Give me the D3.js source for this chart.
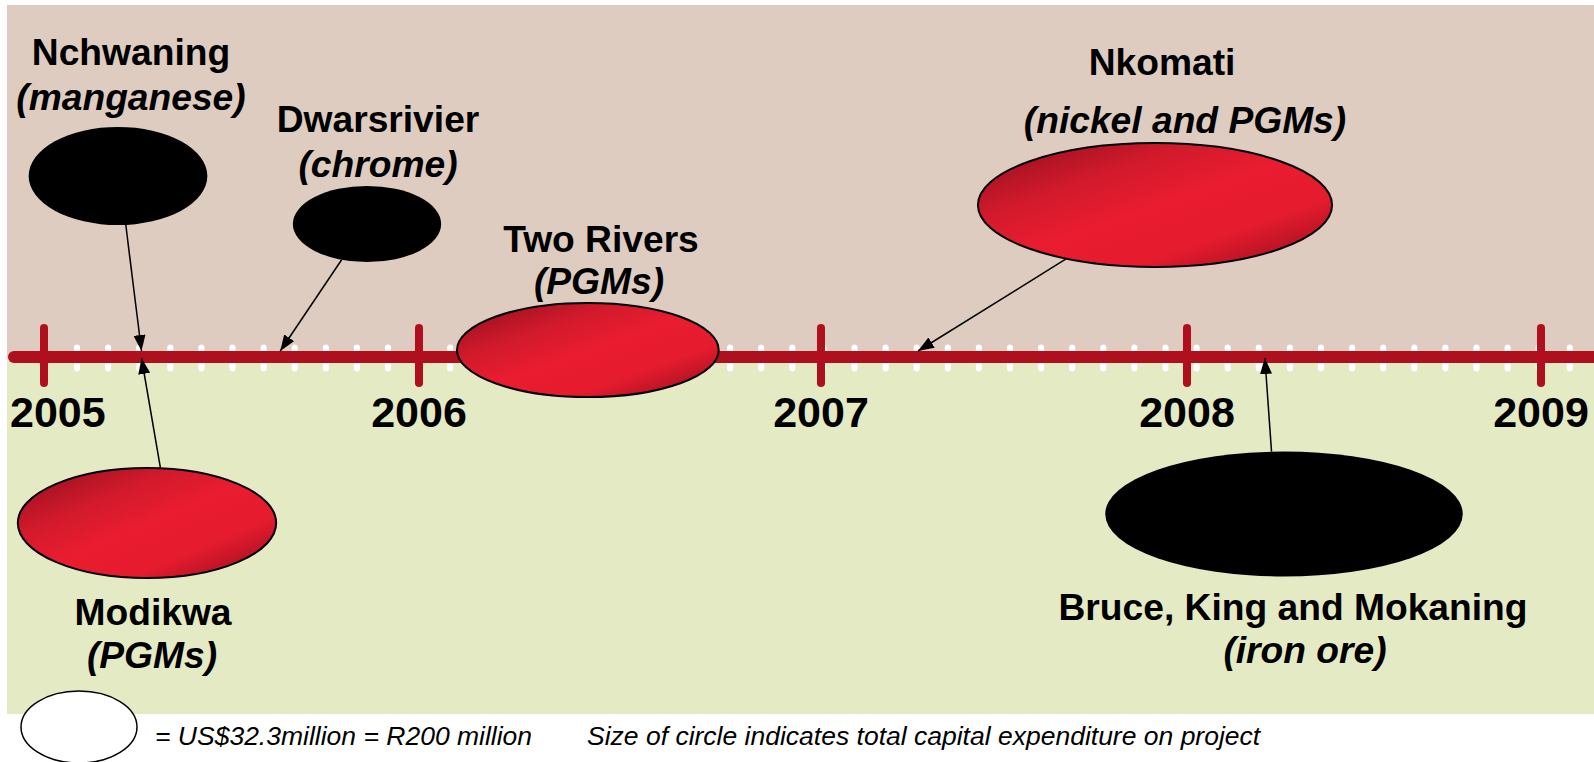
<!DOCTYPE html>
<html>
<head>
<meta charset="utf-8">
<script src="https://cdn.jsdelivr.net/npm/d3@7"></script>
<style>
  body { margin: 0; background: #fff; }
  svg { display: block; font-family: "Liberation Sans", Arial, sans-serif; }
  .name { font-weight: bold; font-size: 37.2px; fill: #000; }
  .mineral { font-weight: bold; font-style: italic; font-size: 37.2px; fill: #000; }
  .year { font-weight: bold; font-size: 43px; fill: #000; }
  .note { font-style: italic; font-size: 26.5px; fill: #000; }
</style>
</head>
<body>
<svg id="chart"></svg>
<script>
// years on the timeline
const years = [2005, 2006, 2007, 2008, 2009];

// projects, commodity, division, completion (fractional year), capex (R million)
const projects = ["Nchwaning", "Dwarsrivier", "Two Rivers", "Nkomati", "Modikwa", "Bruce, King and Mokaning"];
const minerals = ["manganese", "chrome", "PGMs", "nickel and PGMs", "PGMs", "iron ore"];
const divisions = ["Ferrous", "Ferrous", "Platinum", "Platinum", "Platinum", "Ferrous"];
const completion = [2005.26, 2005.63, 2006.42, 2007.265, 2005.26, 2008.22];
const capex = [420, 270, 590, 1050, 680, 1070];

// legend reference bubble
const legendCapex = 200;
const legendText = "= US$32.3million = R200 million";
const noteText = "Size of circle indicates total capital expenditure on project";

// hand placed layout (bubble centre, aspect, arrow anchor angle, label positions)
const layout = [
  { cx: 118, cy: 176, aspect: 1.82, side: -1, angle: 85, nx: 131, ny: 65, mx: 131, my: 110 },
  { cx: 367, cy: 224, aspect: 1.95, side: -1, angle: 110, nx: 378, ny: 132, mx: 378, my: 177 },
  { cx: null, cy: 350, aspect: 2.78, side: 0, angle: null, nx: 601, ny: 252, mx: 599, my: 294 },
  { cx: 1155, cy: 205, aspect: 2.86, side: -1, angle: 120, nx: 1162, ny: 75, mx: 1185, my: 133 },
  { cx: 147, cy: 523, aspect: 2.35, side: 1, angle: -84, nx: 153, ny: 625, mx: 152, my: 668 },
  { cx: 1284, cy: 514, aspect: 2.86, side: 1, angle: -94, nx: 1293, ny: 620, mx: 1305, my: 663 }
];

class Timeline {

  constructor(_config) {
    this.config = {
      parentElement: _config.parentElement,
      containerWidth: _config.containerWidth || 1594,
      containerHeight: _config.containerHeight || 762,
      lineY: 357
    }
    this.initVis();
  }

  initVis() {
    let vis = this;

    vis.svg = d3.select(vis.config.parentElement)
        .attr('width', vis.config.containerWidth)
        .attr('height', vis.config.containerHeight);

    // years were spaced by hand on the slide, so a polylinear scale
    vis.xScale = d3.scaleLinear()
        .domain(years)
        .range([44, 419, 821, 1187, 1541]);

    // bubble area proportional to capex
    vis.rScale = d3.scaleSqrt()
        .domain([0, legendCapex])
        .range([0, 45.7]);

    vis.colour = d3.scaleOrdinal()
        .domain(["Ferrous", "Platinum"])
        .range(["#000", "url(#redGrad)"]);

    const defs = vis.svg.append('defs');
    const grad = defs.append('linearGradient')
        .attr('id', 'redGrad')
        .attr('x1', 0).attr('y1', 0).attr('x2', 1).attr('y2', 1);
    [[0, '#8c0d1b'], [0.3, '#d11a2c'], [0.5, '#ea1c30'], [0.72, '#e51b2e'], [1, '#8c0d1b']]
      .forEach(s => grad.append('stop').attr('offset', s[0]).attr('stop-color', s[1]));

    defs.append('marker')
        .attr('id', 'arrow')
        .attr('viewBox', '0 0 16 12')
        .attr('markerUnits', 'userSpaceOnUse')
        .attr('markerWidth', 16).attr('markerHeight', 12)
        .attr('refX', 16).attr('refY', 6)
        .attr('orient', 'auto')
      .append('path')
        .attr('d', 'M0,0L16,6L0,12Z')
        .attr('fill', '#000');

    // background bands
    vis.svg.append('rect')
        .attr('x', 7).attr('y', 5)
        .attr('width', vis.config.containerWidth - 7)
        .attr('height', vis.config.lineY - 5)
        .attr('fill', '#ddccbf');
    vis.svg.append('rect')
        .attr('x', 7).attr('y', vis.config.lineY)
        .attr('width', vis.config.containerWidth - 7)
        .attr('height', 714 - vis.config.lineY)
        .attr('fill', '#e4eac3');

    vis.axisG = vis.svg.append('g').attr('class', 'axis');
    vis.chart = vis.svg.append('g');

    this.updateVis();
  }

  updateVis() {
    let vis = this;

    vis.data = projects.map((p, i) => {
      const r = vis.rScale(capex[i]);
      const l = layout[i];
      const tx = vis.xScale(completion[i]);
      return {
        name: p,
        mineral: "(" + minerals[i] + ")",
        division: divisions[i],
        tx: tx,
        cx: l.cx === null ? tx : l.cx,
        cy: l.cy,
        rx: r * Math.sqrt(l.aspect),
        ry: r / Math.sqrt(l.aspect),
        layout: l
      };
    });

    this.renderVis();
  }

  renderVis() {
    let vis = this;
    const y0 = vis.config.lineY;

    // monthly white dashes behind the red line
    vis.axisG.selectAll('.dash')
        .data(d3.range(77, vis.config.containerWidth, 31.1))
      .join('rect')
        .attr('class', 'dash')
        .attr('x', d => d - 3)
        .attr('y', y0 - 12.5)
        .attr('width', 6)
        .attr('height', 27)
        .attr('rx', 3)
        .attr('fill', '#fff');

    vis.axisG.append('line')
        .attr('x1', 14).attr('x2', vis.config.containerWidth + 10)
        .attr('y1', y0).attr('y2', y0)
        .attr('stroke', '#b0101e')
        .attr('stroke-width', 12)
        .attr('stroke-linecap', 'round');

    vis.axisG.selectAll('.tick')
        .data(years)
      .join('line')
        .attr('class', 'tick')
        .attr('x1', d => vis.xScale(d)).attr('x2', d => vis.xScale(d))
        .attr('y1', y0 - 29).attr('y2', y0 + 26)
        .attr('stroke', '#b0101e')
        .attr('stroke-width', 8)
        .attr('stroke-linecap', 'round');

    vis.axisG.selectAll('.year')
        .data(years)
      .join('text')
        .attr('class', 'year')
        .attr('text-anchor', 'middle')
        .attr('y', y0 + 70)
        .text(d => d)
        .attr('x', function(d) {
          const w = this.getComputedTextLength();
          return Math.max(vis.xScale(d), 10 + w / 2);
        });

    // arrows from bubble edge to completion date
    const withArrow = vis.data.filter(d => d.layout.side !== 0);
    vis.chart.selectAll('.pointer')
        .data(withArrow)
      .join('line')
        .attr('class', 'pointer')
        .attr('x1', d => d.cx + d.rx * Math.cos(d.layout.angle * Math.PI / 180))
        .attr('y1', d => d.cy + d.ry * Math.sin(d.layout.angle * Math.PI / 180))
        .attr('x2', d => d.tx)
        .attr('y2', d => d.layout.side < 0 ? y0 - 6 : y0 + 1)
        .attr('stroke', '#000')
        .attr('stroke-width', 1.5)
        .attr('marker-end', 'url(#arrow)');

    vis.chart.selectAll('.bubble')
        .data(vis.data)
      .join('ellipse')
        .attr('class', 'bubble')
        .attr('cx', d => d.cx)
        .attr('cy', d => d.cy)
        .attr('rx', d => d.rx)
        .attr('ry', d => d.ry)
        .attr('fill', d => vis.colour(d.division))
        .attr('stroke', '#000')
        .attr('stroke-width', d => d.division === 'Ferrous' ? 0 : 2);

    vis.chart.selectAll('.name')
        .data(vis.data)
      .join('text')
        .attr('class', 'name')
        .attr('text-anchor', 'middle')
        .attr('x', d => d.layout.nx)
        .attr('y', d => d.layout.ny)
        .text(d => d.name);

    vis.chart.selectAll('.mineral')
        .data(vis.data)
      .join('text')
        .attr('class', 'mineral')
        .attr('text-anchor', 'middle')
        .attr('x', d => d.layout.mx)
        .attr('y', d => d.layout.my)
        .text(d => d.mineral);

    // legend
    const rL = vis.rScale(legendCapex);
    vis.svg.append('ellipse')
        .attr('cx', 79).attr('cy', 727)
        .attr('rx', rL * Math.sqrt(1.61))
        .attr('ry', rL / Math.sqrt(1.61))
        .attr('fill', '#fff')
        .attr('stroke', '#000')
        .attr('stroke-width', 1.5);

    vis.svg.append('text')
        .attr('class', 'note')
        .attr('x', 155).attr('y', 745)
        .text(legendText);
    vis.svg.append('text')
        .attr('class', 'note')
        .attr('x', 587).attr('y', 745)
        .text(noteText);
  }
}

new Timeline({ parentElement: '#chart' });
</script>
</body>
</html>
